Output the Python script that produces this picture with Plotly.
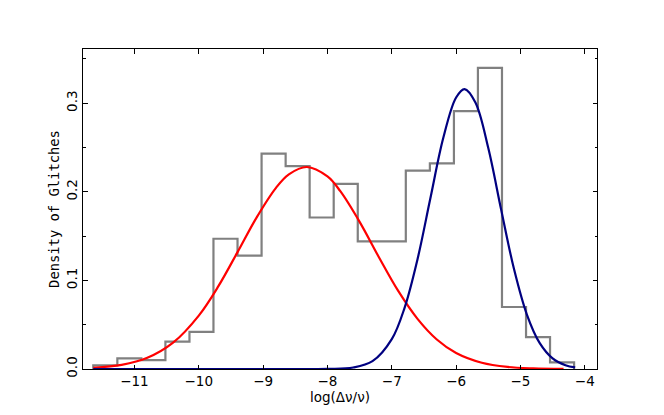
import plotly.graph_objects as go

# Histogram (step outline)
bin_edges = [-11.640, -11.266, -10.893, -10.519, -10.145, -9.772, -9.398, -9.024,
             -8.650, -8.277, -7.903, -7.529, -7.156, -6.782, -6.408, -6.034,
             -5.661, -5.287, -4.913, -4.540, -4.166]
bin_heights = [0.004, 0.012, 0.010, 0.031, 0.042, 0.147, 0.128, 0.243, 0.229, 0.171,
               0.209, 0.144, 0.144, 0.224, 0.232, 0.291, 0.340, 0.070, 0.036, 0.0075]

# Red fitted curve
red_x = [-11.64, -11.2, -10.8, -10.4, -10.0, -9.7, -9.4, -9.1, -8.8, -8.6, -8.32,
         -8.0, -7.8, -7.5, -7.2, -6.9, -6.6, -6.3, -6.0, -5.6, -5.2, -4.8, -4.33]
red_y = [0.0013, 0.0046, 0.0126, 0.0297, 0.0603, 0.0929, 0.1316, 0.1712, 0.2045,
         0.2197, 0.2280, 0.2173, 0.2007, 0.1661, 0.1262, 0.0881, 0.0566, 0.0333,
         0.0180, 0.0070, 0.0023, 0.0007, 0.0001]

# Blue fitted curve
blue_x = [-11.64, -10.0, -9.0, -8.0, -7.6, -7.3, -7.0, -6.8, -6.6, -6.4, -6.2, -6.0,
          -5.868, -5.7, -5.5, -5.3, -5.1, -4.9, -4.7, -4.5, -4.3, -4.15]
blue_y = [0.0, 0.0, 0.0, 0.0001, 0.0017, 0.0088, 0.0337, 0.0693, 0.1239, 0.1927,
          0.2607, 0.3065, 0.3160, 0.3008, 0.2494, 0.1799, 0.1128, 0.0615, 0.0292,
          0.0120, 0.0043, 0.0018]

x_ticks = [-11, -10, -9, -8, -7, -6, -5, -4]
y_ticks = [0.0, 0.1, 0.2, 0.3]

hist_x = [bin_edges[0]] + bin_edges
hist_y = [0] + bin_heights + [0]

fig = go.Figure()
fig.add_trace(go.Scatter(x=hist_x, y=hist_y, mode="lines", line_shape="hv",
                         line=dict(color="#808080", width=2.2), hoverinfo="skip"))
fig.add_trace(go.Scatter(x=red_x, y=red_y, mode="lines", line_shape="spline",
                         line=dict(color="#ff0000", width=2.2)))
fig.add_trace(go.Scatter(x=blue_x, y=blue_y, mode="lines", line_shape="spline",
                         line=dict(color="#000080", width=2.2)))

tick_font = dict(family="DejaVu Sans", size=13.5, color="black")

fig.update_layout(
    width=664, height=415,
    margin=dict(l=75, r=75, t=41, b=54),
    paper_bgcolor="white", plot_bgcolor="white",
    showlegend=False,
    xaxis=dict(
        range=[-11.80, -3.81], tickvals=x_ticks, ticks="inside", ticklen=4.5,
        tickcolor="black", showline=True, linecolor="black", linewidth=1,
        mirror="ticks", showgrid=False, zeroline=False, tickfont=tick_font,
        automargin=False,
        title=dict(text="log(Δν/ν)", font=dict(family="DejaVu Sans", size=13.5, color="black"),
                   standoff=4),
    ),
    yaxis=dict(
        range=[0, 0.3612], tickvals=y_ticks, tickformat=".1f", ticks="inside",
        ticklen=4.5, tickcolor="black", showline=True, linecolor="black", linewidth=1,
        mirror="ticks", showgrid=False, zeroline=False, tickfont=tick_font,
        tickangle=-90, automargin=False,
        minor=dict(dtick=0.05, tick0=0, ticks="inside", ticklen=2.5, tickcolor="black",
                   showgrid=False),
        title=dict(text="Density of Glitches",
                   font=dict(family="DejaVu Sans Mono", size=13.8, color="black"),
                   standoff=0),
    ),
)

fig.write_html("out.html")
